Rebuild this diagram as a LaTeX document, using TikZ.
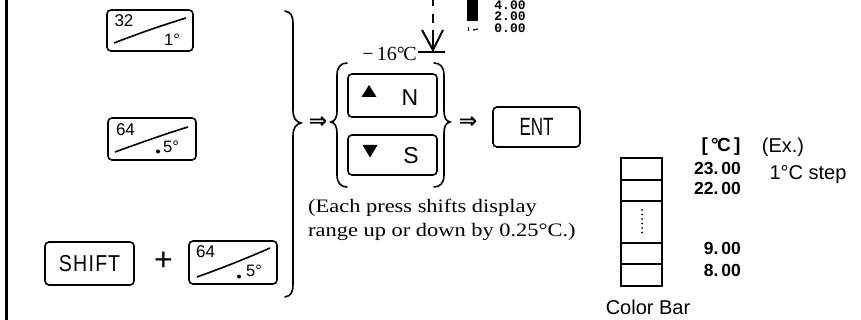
\documentclass[tikz,border=0pt]{standalone}
\usepackage{fontspec}
\setmainfont{Liberation Serif}
\setsansfont{Liberation Sans}
\setmonofont{Liberation Mono}
\newfontfamily\symfont{DejaVu Sans}
\newcommand\xs[2]{\scalebox{#1}[1]{#2}}
\begin{document}
\begin{tikzpicture}[x=1pt,y=-1pt,
  keybox/.style={draw, line width=1.6pt, rounded corners=4pt, inner sep=0pt},
  thin key/.style={line width=1.6pt},
  brace/.style={line width=1.6pt, line cap=round},
  keytop/.style={font=\sffamily\fontsize{17}{17}\selectfont, inner sep=0pt},
  keylab/.style={font=\sffamily\fontsize{16.5}{16.5}\selectfont, inner sep=0pt},
  bigkey/.style={font=\sffamily\fontsize{23}{23}\selectfont, inner sep=0pt},
  numlab/.style={font=\sffamily\bfseries\fontsize{17.5}{17.5}\selectfont, inner sep=0pt, anchor=east},
  sanslab/.style={font=\sffamily\fontsize{20}{20}\selectfont, inner sep=0pt},
  minilab/.style={font=\ttfamily\bfseries\fontsize{13}{13}\selectfont, inner sep=0pt},
  imp/.style={font=\symfont\bfseries\fontsize{22}{22}\selectfont, inner sep=0pt}
]
\useasboundingbox[fill=white] (0,0) rectangle (861,320);

% left margin rule
\coordinate (ruletop) at (6,0);
\coordinate (rulebot) at (6,320);
\draw[line width=3pt] (ruletop) -- (rulebot);

% ---- key 1: 32 / 1deg
\node[keybox, minimum width=86pt, minimum height=41pt] (k1) at (150,30.5) {};
\node[keytop] (k1t) at (124,21) {32};
\node[keylab] (k1b) at (172,40) {1°};
\coordinate (k1a) at (114,43);
\coordinate (k1c) at (186,18);
\draw[thin key] (k1a) .. controls (140,33) and (160,26) .. (k1c);

% ---- key 2: 64 / .5deg
\node[keybox, minimum width=88pt, minimum height=42pt] (k2) at (152,139) {};
\node[keytop] (k2t) at (125.5,130) {64};
\node[keylab] (k2b) at (171,147) {5°};
\fill (158,151.5) circle (2pt);
\coordinate (k2a) at (115,152);
\coordinate (k2c) at (188,127);
\draw[thin key] (k2a) .. controls (140,143) and (162,135) .. (k2c);

% ---- SHIFT + key 3
\node[keybox, minimum width=89pt, minimum height=43pt, bigkey] (shift) at (89.5,263.5) {\xs{0.85}{S\kern1.5pt H\kern1.5pt I\kern1.5pt F\kern1pt T}};
\node[font=\sffamily\fontsize{32}{32}\selectfont, inner sep=0pt] (plus) at (163.5,261) {+};
\node[keybox, minimum width=88pt, minimum height=43pt] (k3) at (233,262.5) {};
\node[keytop] (k3t) at (205.5,252) {64};
\node[keylab] (k3b) at (254,271) {5°};
\fill (239,276.5) circle (2pt);
\coordinate (k3a) at (197,277);
\coordinate (k3c) at (270,248);
\draw[thin key] (k3a) .. controls (222,268) and (245,259) .. (k3c);

% ---- big brace
\draw[brace] (285,11) .. controls (291,12) and (293,16) .. (293,24) -- (293,110)
  .. controls (293,118) and (296,122) .. (301,123)
  .. controls (296,124) and (293,128) .. (293,136) -- (293,284)
  .. controls (293,292) and (291,296) .. (285,297);

\node[imp] (imp1) at (318,123) {⇒};

% ---- N / S group
\draw[brace] (347,63) .. controls (341,63) and (337,67) .. (337,75) -- (337,110)
  .. controls (337,118) and (335,121) .. (331,122)
  .. controls (335,123) and (337,126) .. (337,134) -- (337,175)
  .. controls (337,183) and (341,187) .. (347,187);
\draw[brace] (434,63) .. controls (440,63) and (444,67) .. (444,75) -- (444,110)
  .. controls (444,118) and (446,121) .. (450,122)
  .. controls (446,123) and (444,126) .. (444,134) -- (444,175)
  .. controls (444,183) and (440,187) .. (434,187);

\node[keybox, minimum width=89pt, minimum height=43pt] (nkey) at (392.5,95.5) {};
\node[keybox, minimum width=89pt, minimum height=40pt] (skey) at (392.5,155) {};
\fill (369,85) -- (376.5,97) -- (361.5,97) -- cycle;
\fill (362.5,145) -- (377.5,145) -- (370,157.5) -- cycle;
\node[bigkey] (nlab) at (410,97.5) {N};
\node[bigkey] (slab) at (411,155.5) {S};

\node[imp] (imp2) at (468,123) {⇒};

\node[keybox, minimum width=87pt, minimum height=40pt, font=\sffamily\fontsize{25}{25}\selectfont] (ent) at (536.5,127) {\xs{0.68}{ENT}};

% ---- -16 C marker and dashed arrow
\node[font=\fontsize{20}{20}\selectfont, inner sep=0pt, anchor=east] (m16) at (417,54) {−\,16°\kern-1.5pt C};
\coordinate (mline) at (445,52);
\draw[line width=1.6pt] (m16.east) ++(1,-2) coordinate (mlinestart) -- (mline);
\coordinate (atop) at (433,-3);
\coordinate (atip) at (433,50);
\draw[line width=2pt, dash pattern=on 9pt off 8pt] (atop) -- (433,30);
\draw[line width=2pt] (433,30) -- (atip);
\coordinate (vl) at (422,30);
\coordinate (vr) at (443,30);
\draw[line width=2pt] (vl) -- (atip) -- (vr);

% ---- mini display at top
\fill (467,0) rectangle (478,21);
\fill (467.5,27) rectangle (469,31);
\draw[line width=1.2pt] (473,30) -- (478,29);
\node[minilab] (m4) at (510,5) {4.00};
\node[minilab] (m2) at (510,16.5) {2.00};
\node[minilab] (m0) at (510,28.5) {0.00};

% ---- note
\node[font=\fontsize{19}{24}\selectfont, inner sep=0pt, anchor=west, align=left] (note) at (308,220)
  {\xs{1.18}{(Each press shifts display}\\\xs{1.18}{range up or down by 0.25°C.)}};

% ---- color bar
\coordinate (cbtl) at (621,158);
\coordinate (cbbr) at (662,286);
\draw[line width=1.8pt] (cbtl) rectangle (cbbr);
\foreach \yy in {180,201,243,264} \draw[line width=1.8pt] (621,\yy) -- (662,\yy);
\foreach \yy in {210,214.5,...,235} \fill (642,\yy) circle (1pt);

\node[sanslab, font=\sffamily\bfseries\fontsize{19}{19}\selectfont] (unit) at (721,147) {[\,°\kern-1.5pt C\,]};
\node[sanslab] (ex) at (783,147) {(Ex.)};
\node[numlab] (n23) at (741,168) {23.\,00};
\node[numlab] (n22) at (741,188) {22.\,00};
\node[numlab] (n9) at (741,248) {9.\,00};
\node[numlab] (n8) at (741,270) {8.\,00};
\node[sanslab] (step) at (808,175) {1°C step};
\node[sanslab] (cbar) at (648,307) {Color Bar};
\end{tikzpicture}
\end{document}
